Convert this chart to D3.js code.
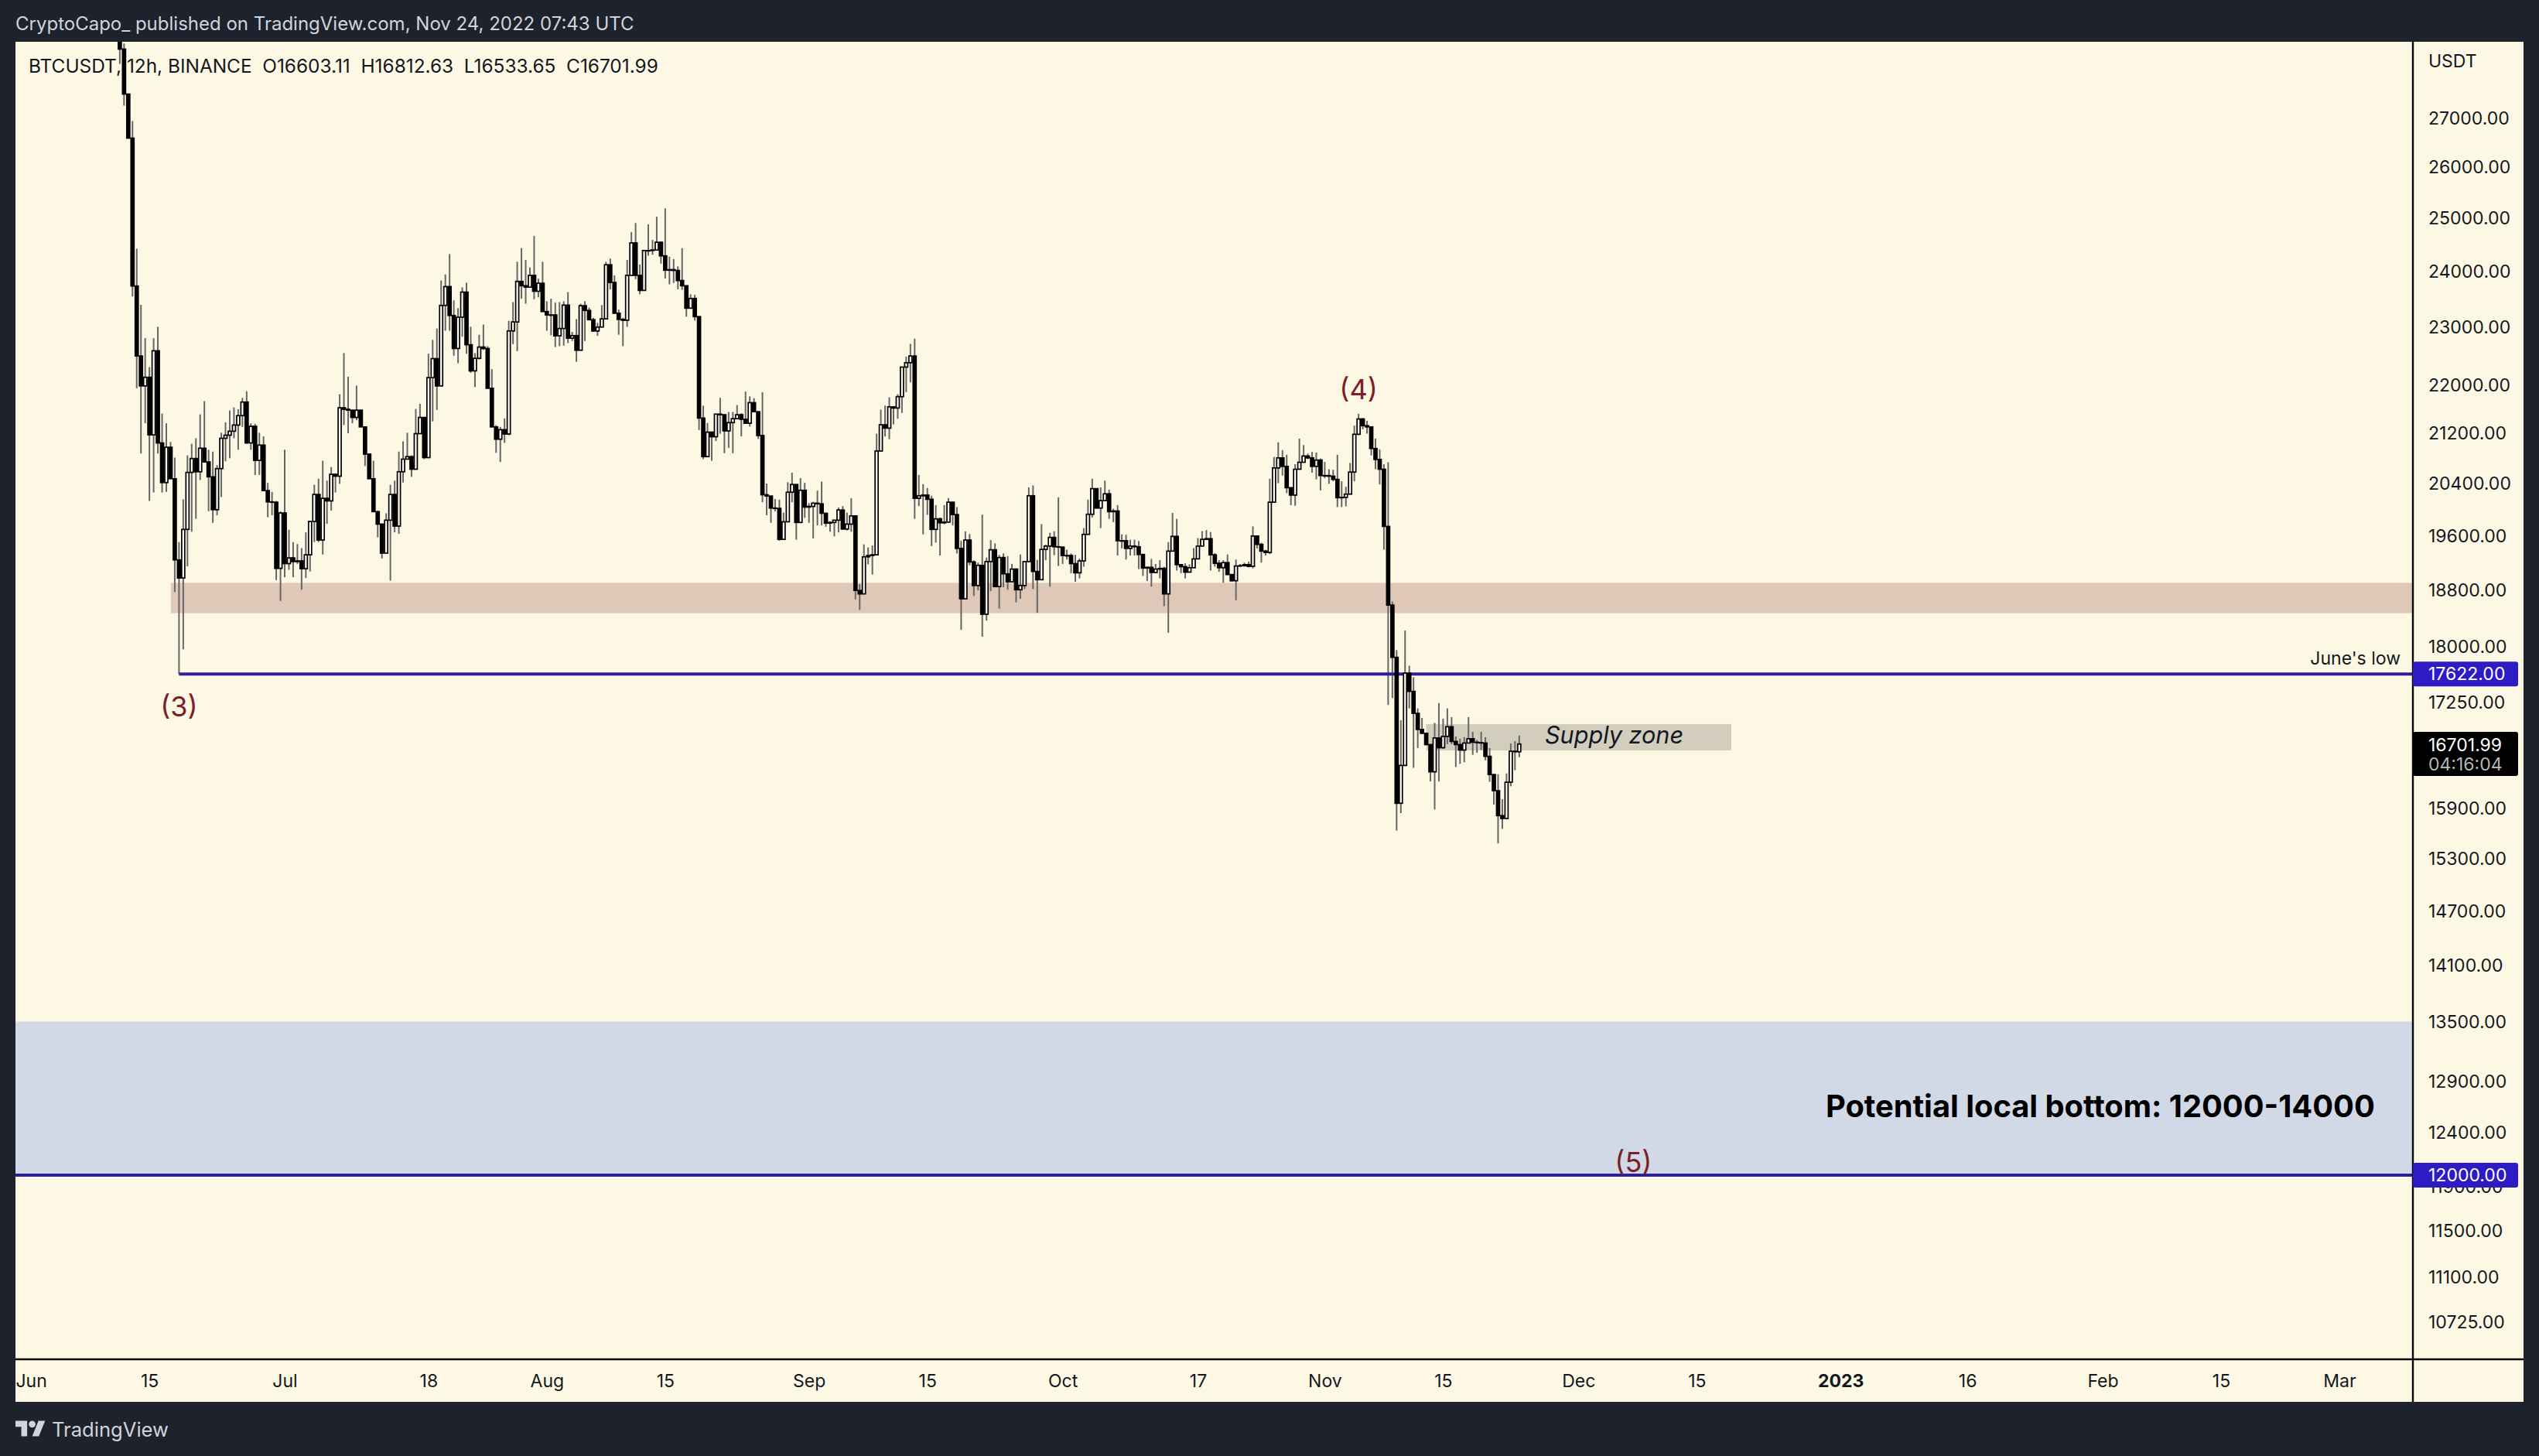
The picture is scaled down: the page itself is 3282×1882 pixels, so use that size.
<![CDATA[<!DOCTYPE html>
<html><head><meta charset="utf-8">
<style>html,body{margin:0;padding:0;background:#1e222d}svg{display:block}text{font-family:Inter,"Liberation Sans",sans-serif;white-space:pre}</style>
<script src="https://cdnjs.cloudflare.com/ajax/libs/d3/7.8.5/d3.min.js"></script>
</head><body><svg id="c" width="3282" height="1882"></svg>
<script>
const firstBar = Date.UTC(2022,5,11,12);
const barStep = 12*3600*1000;
const firstOpen = 29100;
const closes = [
28458,27493,26580,23730,22490,21980,22126,21170,22580,21040,
20410,20970,20470,19235,18970,19690,20570,20790,20580,20955,
20735,20500,19990,20630,21115,21165,21230,21330,21485,21710,
21040,21310,20760,21005,20285,20110,20105,19110,19940,19180,
19265,19210,19220,19105,19310,19810,20225,19530,20165,20125,
20540,20510,21615,21590,21575,21455,21575,21300,20860,20470,
19960,19770,19335,19830,20225,19740,20580,20780,20820,20620,
21190,21455,20805,22120,22445,21980,23380,23720,23200,22620,
23170,23620,22685,22235,22450,22645,22620,21940,21300,21100,
21255,21184,22927,23085,23815,23735,23710,23925,23635,23780,
23270,23210,23210,22840,22970,23385,22800,22845,22590,23375,
23290,23125,22925,22995,23140,24120,23795,23240,23130,23115,
23925,24528,23925,23650,24385,24385,24395,24540,24285,24020,
24030,24015,23830,23735,23330,23505,23180,21445,20820,21215,
21140,21510,21500,21235,21370,21435,21500,21425,21360,21700,
21550,21160,20220,20200,20015,20010,19540,19805,20260,20380,
19795,20290,20030,20040,20090,20080,19935,19785,19795,19830,
19985,19695,19770,19895,18790,18740,19280,19300,19310,20910,
21335,21280,21630,21610,21800,22300,22375,22490,20165,20205,
20215,20150,19690,19850,19790,19800,20105,19915,19405,18670,
19530,19205,18860,19155,18450,19210,19385,18845,19270,19030,
18915,19100,18800,18860,19210,20205,19065,18945,19390,19440,
19570,19430,19425,19300,19300,19180,19045,19220,19615,19920,
20315,20015,20130,20235,19960,19970,19520,19520,19405,19440,
19430,19315,19115,19125,19050,19100,19110,18740,19365,19585,
19165,19135,19055,19120,19250,19440,19540,19550,19310,19185,
19120,19195,19020,18930,19145,19150,19165,19140,19590,19465,
19365,19345,20105,20640,20800,20665,20330,20215,20620,20730,
20830,20800,20665,20765,20520,20520,20510,20460,20175,20180,
20230,20575,21180,21430,21320,21300,20950,20775,20620,19735,
18580,17850,15960,16430,17635,17390,17100,16890,16840,16695,
16350,16780,16655,16800,16925,16735,16695,16625,16715,16770,
16725,16720,16715,16545,16315,16115,15810,15775,16220,16610,
16603.11,16701.99];
const highs = [
29400,28580,27490,26930,24420,23390,22800,22300,22800,23000,
21520,21360,21055,20805,19500,20150,20840,21025,21115,21505,
21725,20930,20900,20685,21205,21375,21570,21620,21590,21780,
21890,21360,21350,21205,21145,20405,20265,20125,19965,20930,
19685,19500,19470,19410,19645,19820,20375,20470,20755,20440,
20655,20550,21840,22540,22135,21580,21985,21580,21300,20870,
20755,19975,19780,19935,20375,20440,20900,21065,21205,20840,
21595,21680,21455,22530,22770,22970,23830,23940,24320,23470,
23330,23705,23790,23000,22540,22860,23040,22660,22265,21330,
21300,21440,23105,23440,24175,24430,24210,24070,24660,23865,
24175,23455,23500,23430,23440,23455,23620,22910,23135,23410,
23455,23340,23160,23070,23385,24175,24235,23925,23305,23160,
24210,24730,24905,24125,24390,24880,24585,25025,24550,25185,
24270,24225,24090,24430,23740,23580,23570,23180,21650,21365,
21215,21500,21780,21500,21545,21545,21660,21525,21885,21805,
21775,21555,21875,20395,20205,20155,20145,19945,20415,20565,
20385,20480,20405,20090,20110,20285,20425,19945,19815,19825,
20025,20045,19945,20165,19900,18880,19465,19420,19450,21190,
21585,21650,21790,21630,21840,22300,22480,22700,22790,20530,
20385,20325,20205,20060,19870,20060,20170,20105,20030,19520,
19660,19620,19230,19195,19915,19270,19530,19480,19310,19330,
19290,19175,19110,19315,19210,20335,20365,19235,19770,19460,
19640,19660,20180,19425,19385,19330,19310,19255,19710,20145,
20470,20325,20335,20440,20300,20005,20060,19615,19610,19535,
19535,19515,19325,19135,19250,19175,19230,19135,19500,19940,
19850,19175,19185,19170,19410,19560,19665,19680,19650,19335,
19230,19230,19315,19020,19240,19175,19195,19210,19735,19590,
19490,19385,20470,20815,21050,20925,20850,20330,20700,21110,
21005,20870,20895,20885,20790,20735,20620,20610,20850,20430,
20345,20720,21320,21515,21445,21400,21300,21110,20935,20700,
20730,18630,17950,17010,18220,17735,17580,17165,17040,16840,
16700,16975,17235,17030,17165,17050,16800,16770,16790,17050,
16860,16755,16860,16790,16650,16325,16320,16010,16330,16710,
16740,16812.63];
const lows = [
28135,27250,26610,23540,21940,20870,21360,20125,20255,20870,
20255,20265,20470,18765,17622,17960,19140,19655,19850,20450,
20735,19965,19790,19905,20185,20745,20795,21115,20930,21300,
21025,20930,20530,20530,20285,19875,19905,18940,18640,18980,
19090,18980,19175,18800,18970,19065,19500,19500,19315,19775,
19975,20255,20390,21330,21195,21360,21410,21300,20670,20470,
19965,19570,19255,19335,18930,19645,19625,20410,20780,20500,
20620,21190,20780,20795,21390,21580,21990,22930,22930,22495,
22365,22825,22530,22200,21960,22430,22595,21940,21760,20880,
20735,21040,21165,22695,22575,23500,23410,23770,23490,23525,
23270,22930,22850,22645,22660,22670,22715,22750,22390,22590,
22750,23120,22910,22840,23000,23150,23670,23240,22860,22660,
23000,23925,23855,23580,23650,24290,24305,24400,24140,23865,
23760,23785,23670,23660,23180,23330,23110,21250,20780,20820,
20755,21070,21190,20875,20960,20875,21440,21145,21355,21305,
21545,21105,20105,19905,19790,19965,19520,19545,19810,20105,
19535,19795,19865,19790,19555,19750,19750,19730,19655,19585,
19645,19695,19675,19655,18660,18510,18740,19170,19020,19310,
20910,21145,21100,21340,21435,21530,21875,22040,19850,20045,
19615,19910,19440,19490,19300,19770,19795,19750,19330,18230,
18670,19155,18710,18790,18135,18360,18780,18835,18530,18835,
18800,18915,18620,18670,18810,19210,18810,18470,18945,19230,
18845,19305,19145,19175,19240,19040,18915,18965,19135,19610,
19870,20005,19710,20130,19850,19800,19300,19405,19240,19300,
19300,19100,19000,18925,18845,19040,18965,18565,18190,19365,
19080,19040,18965,19055,19120,19250,19440,19535,19080,19135,
19060,18900,19020,18915,18650,19135,19135,19125,19110,19405,
19195,19300,19320,20105,20400,20520,20245,20059,20050,20620,
20730,20780,20565,20460,20288,20480,20390,20430,20030,20030,
20040,20230,20430,21165,21260,21190,20840,20620,20380,19385,
17210,17300,15630,15840,16430,17165,16400,16650,16830,16685,
16230,15885,16230,16640,16700,16700,16410,16450,16470,16715,
16565,16590,16625,16495,16225,15945,15476,15650,15775,16170,
16370,16533.65];

const priceTicks = [27000,26000,25000,24000,23000,22000,21200,20400,19600,18800,18000,17250,15900,15300,14700,14100,13500,12900,12400,11900,11500,11100,10725];
const timeTicks = [[2022,5,1,"Jun"],[2022,5,15,"15"],[2022,6,1,"Jul"],[2022,6,18,"18"],[2022,7,1,"Aug"],[2022,7,15,"15"],[2022,8,1,"Sep"],[2022,8,15,"15"],[2022,9,1,"Oct"],[2022,9,17,"17"],[2022,10,1,"Nov"],[2022,10,15,"15"],[2022,11,1,"Dec"],[2022,11,15,"15"],[2023,0,1,"2023"],[2023,0,16,"16"],[2023,1,1,"Feb"],[2023,1,15,"15"],[2023,2,1,"Mar"]];
const priceZones = [
  {from:Date.UTC(2022,5,17,13), hi:18900, lo:18465, fill:"#e0c8b8"},
  {from:Date.UTC(2022,10,13,0), to:Date.UTC(2022,11,19,2), hi:16960, lo:16620, fill:"#d2cdbc"},
  {hi:13500, lo:12000, fill:"#d2d9e6"}
];
const levels = [{price:17622, from:Date.UTC(2022,5,18,12), label:"17622.00"},{price:12000, label:"12000.00"}];
const waveLabels = [["(3)",Date.UTC(2022,5,18,12),17190],["(4)",Date.UTC(2022,10,5,0),21925],["(5)",Date.UTC(2022,11,7,12),12120]];

const L=20,T=54,R=3119,B=1757,FR=3262,FB=1812;
const BG="#fdf8e3",BLUE="#2e1e9f",BLUEBOX="#2d1bc4",INK="#0a0a0a";
const svg=d3.select("#c");
const x=d3.scaleUtc().domain([Date.UTC(2022,4,30,3,50),Date.UTC(2023,2,9,16,34)]).range([L,R]);
const y=d3.scaleLog().domain([10420,28618]).range([B,T]);

svg.append("rect").attr("width",3282).attr("height",1882).attr("fill","#1e222d");
svg.append("rect").attr("x",L).attr("y",T).attr("width",FR-L).attr("height",FB-T).attr("fill",BG);
svg.append("defs").append("clipPath").attr("id","p").append("rect").attr("x",L).attr("y",T).attr("width",R-L).attr("height",B-T);
const plot=svg.append("g").attr("clip-path","url(#p)");

plot.selectAll("rect.z").data(priceZones).join("rect").attr("class","z")
  .attr("x",d=>d.from?x(d.from):L)
  .attr("width",d=>(d.to?x(d.to):R)-(d.from?x(d.from):L))
  .attr("y",d=>y(d.hi)).attr("height",d=>y(d.lo)-y(d.hi)).attr("fill",d=>d.fill);

const bars=closes.map((c,i)=>({t:firstBar+i*barStep,o:i?closes[i-1]:firstOpen,c,h:highs[i],l:lows[i]}));
plot.selectAll("line.w").data(bars).join("line").attr("class","w")
  .attr("x1",d=>x(d.t)).attr("x2",d=>x(d.t)).attr("y1",d=>y(d.h)).attr("y2",d=>y(d.l))
  .attr("stroke","#666").attr("stroke-width",2);

plot.selectAll("line.lv").data(levels).join("line").attr("class","lv")
  .attr("x1",d=>d.from?x(d.from):L).attr("x2",R).attr("y1",d=>y(d.price)).attr("y2",d=>y(d.price))
  .attr("stroke",BLUE).attr("stroke-width",4);

const bw=4;
plot.selectAll("rect.b").data(bars).join("rect").attr("class","b")
  .attr("x",d=>x(d.t)-bw/2).attr("width",bw)
  .attr("y",d=>y(Math.max(d.o,d.c)))
  .attr("height",d=>Math.max(0.5,Math.abs(y(d.o)-y(d.c))))
  .attr("fill",d=>d.c>=d.o?"#fffdf6":"#000").attr("stroke","#000").attr("stroke-width",1.7);

svg.append("line").attr("x1",L).attr("x2",FR).attr("y1",B).attr("y2",B).attr("stroke",INK).attr("stroke-width",2.4);
svg.append("line").attr("x1",R).attr("x2",R).attr("y1",T).attr("y2",FB).attr("stroke",INK).attr("stroke-width",2.4);

const xAxis=d3.axisBottom(x).tickValues(timeTicks.map(d=>new Date(Date.UTC(d[0],d[1],d[2])))).tickFormat((d,i)=>timeTicks[i][3]).tickSize(0).tickPadding(0);
const gx=svg.append("g").attr("transform",`translate(0,${B})`).call(xAxis);
gx.select(".domain").remove();
gx.selectAll("text").attr("y",28).attr("dy","0.35em").attr("fill","#131722").style("font-size","23px").style("font-family","Inter")
  .style("font-weight",(d,i)=>timeTicks[i][3]==="2023"?"700":"400");

const yAxis=d3.axisRight(y).tickValues(priceTicks).tickFormat(d3.format(".2f")).tickSize(0).tickPadding(0);
const gy=svg.append("g").attr("transform",`translate(${R},0)`).call(yAxis);
gy.select(".domain").remove();
gy.selectAll("text").attr("x",20).attr("dy","0.35em").attr("fill","#131722").style("font-size","23px").style("font-family","Inter");

function txt(s,px,py,size,o={}){return svg.append("text").text(s).attr("x",px).attr("y",py).attr("dy","0.35em")
  .attr("text-anchor",o.a||"start").attr("fill",o.f||"#131722").style("font-size",size+"px")
  .style("font-weight",o.w||400).style("font-style",o.i||"normal");}

txt("USDT",3139,79,23);
levels.forEach(d=>{const yy=y(d.price);
  svg.append("rect").attr("x",R).attr("y",yy-16).attr("width",136).attr("height",32).attr("rx",3).attr("fill",BLUEBOX);
  txt(d.label,3139,yy,23,{f:"#fff"});});
svg.append("rect").attr("x",R).attr("y",946).attr("width",136).attr("height",57).attr("rx",3).attr("fill","#000");
txt("16701.99",3139,963,23,{f:"#fff"});
txt("04:16:04",3139,988,23,{f:"#b5b5b5"});

txt("June's low",3103,851,23,{a:"end"});
waveLabels.forEach(d=>txt(d[0],x(d[1]),y(d[2]),36,{a:"middle",f:"#7a2026"}));
txt("Supply zone",1997,950,30.6,{i:"italic"});
txt("Potential local bottom: 12000-14000",2360,1430,39.8,{w:700,f:"#000"});
txt("BTCUSDT, 12h, BINANCE  O16603.11  H16812.63  L16533.65  C16701.99",37,85,24.4);
txt("CryptoCapo_ published on TradingView.com, Nov 24, 2022 07:43 UTC",20,31,24,{f:"#d1d4dc"});

svg.append("g").attr("transform","translate(20,1832) scale(1.08,1.11)").attr("fill","#d1d4dc").call(g=>{
  g.append("path").attr("d","M14 22H7V11H0V4h14v18zM28 22h-8l7.5-18h8L28 22z");
  g.append("circle").attr("cx",20).attr("cy",8).attr("r",4);});
txt("TradingView",67,1848,25.6,{f:"#d1d4dc"});
</script></body></html>]]>
